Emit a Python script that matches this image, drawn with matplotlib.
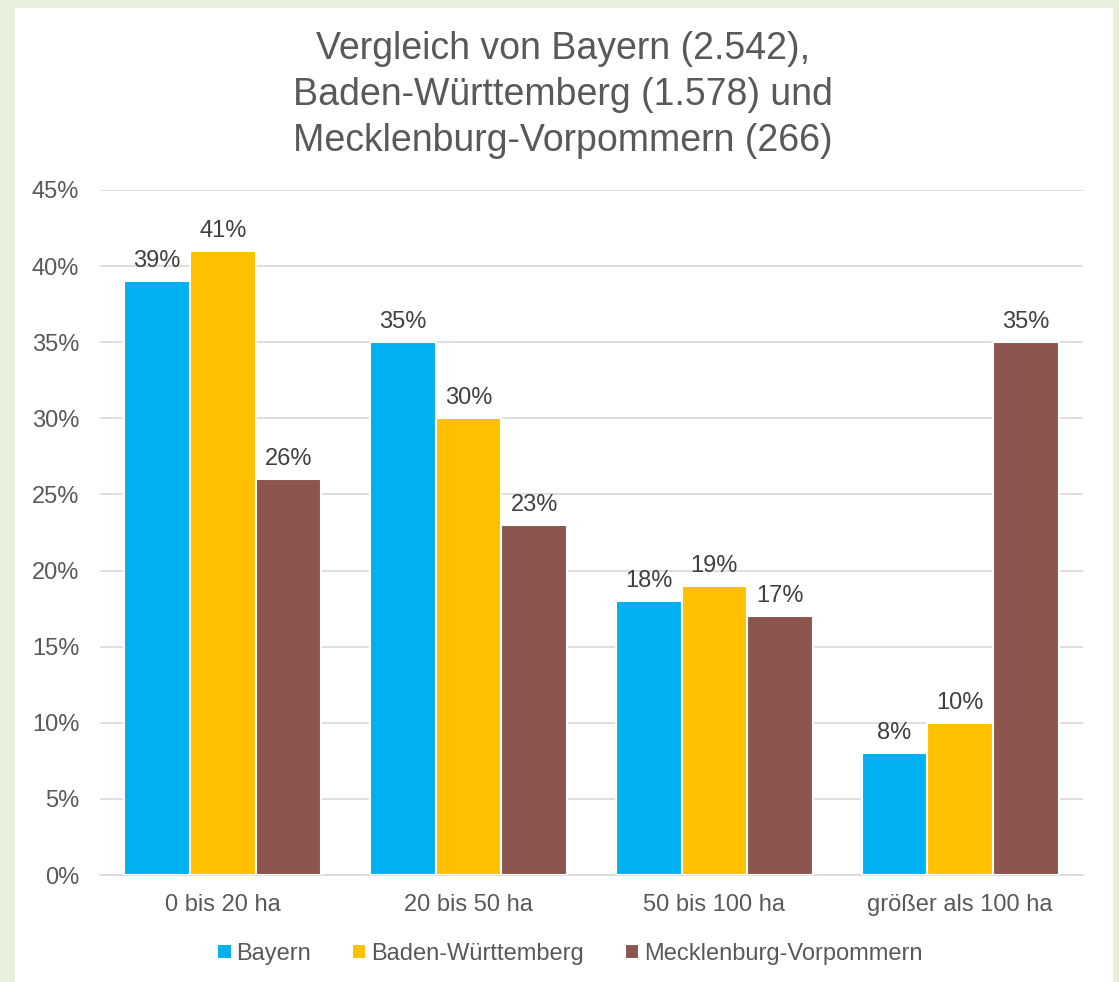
import matplotlib
matplotlib.use("Agg")
import matplotlib.pyplot as plt
from matplotlib.patches import Rectangle
import numpy as np

categories = ["0 bis 20 ha", "20 bis 50 ha", "50 bis 100 ha", "größer als 100 ha"]
series_names = ["Bayern", "Baden-Württemberg", "Mecklenburg-Vorpommern"]
bayern = [39, 35, 18, 8]
bw = [41, 30, 19, 10]
mv = [26, 23, 17, 35]
colors = ["#00B0F0", "#FFC000", "#8C554E"]
yticks = [0, 5, 10, 15, 20, 25, 30, 35, 40, 45]

plt.rcParams['font.family'] = ['Liberation Sans', 'DejaVu Sans']
W, H = 1119, 982
fig = plt.figure(figsize=(W/100, H/100), dpi=100)
fig.patch.set_facecolor("#E8EFDB")
fig.add_artist(Rectangle((15/W, 0), (1113-15)/W, (982-8)/H, transform=fig.transFigure,
                         facecolor="white", edgecolor="none", zorder=0))

ax = fig.add_axes([100/W, 1-875/H, (1083-100)/W, (875-190)/H])
ax.set_facecolor("none")
x = np.arange(len(categories))
bw_ = 0.267
data = [bayern, bw, mv]
for i, (vals, c, name) in enumerate(zip(data, colors, series_names)):
    pos = x + (i-1)*bw_
    ax.bar(pos, vals, width=bw_, color=c, edgecolor="white", linewidth=1.5, label=name, zorder=3)
    for p, v in zip(pos, vals):
        ax.text(p, v + 0.6, f"{v}%", ha="center", va="bottom", fontsize=17, color="#404040")

ax.set_xlim(-0.5, 3.5)
ax.set_ylim(0, 45)
ax.set_yticks(yticks)
ax.set_yticklabels([f"{t}%" for t in yticks])
ax.yaxis.grid(True, color="#D9D9D9", linewidth=1.2, zorder=0)
ax.set_axisbelow(True)
for s in ["top", "right", "left"]:
    ax.spines[s].set_visible(False)
ax.spines["bottom"].set_color("#D9D9D9")
ax.spines["bottom"].set_linewidth(1.2)
ax.tick_params(axis="both", length=0, labelsize=17, labelcolor="#595959")
ax.tick_params(axis="y", pad=15)
ax.tick_params(axis="x", pad=14)
ax.set_xticks(x)
ax.set_xticklabels(categories)

fig.text(563/W, 1-95/H, "Vergleich von Bayern (2.542),\nBaden-Württemberg (1.578) und\nMecklenburg-Vorpommern (266)",
         ha="center", va="center", fontsize=27, color="#595959", linespacing=1.36)

leg = fig.legend(loc="center", bbox_to_anchor=(570/W, 1-954/H), ncol=3, frameon=False,
                 fontsize=17, handlelength=0.6, handleheight=0.6, handletextpad=0.2, columnspacing=1.75)
for t in leg.get_texts():
    t.set_color("#595959")

fig.savefig("out.png", dpi=100, facecolor=fig.get_facecolor())
